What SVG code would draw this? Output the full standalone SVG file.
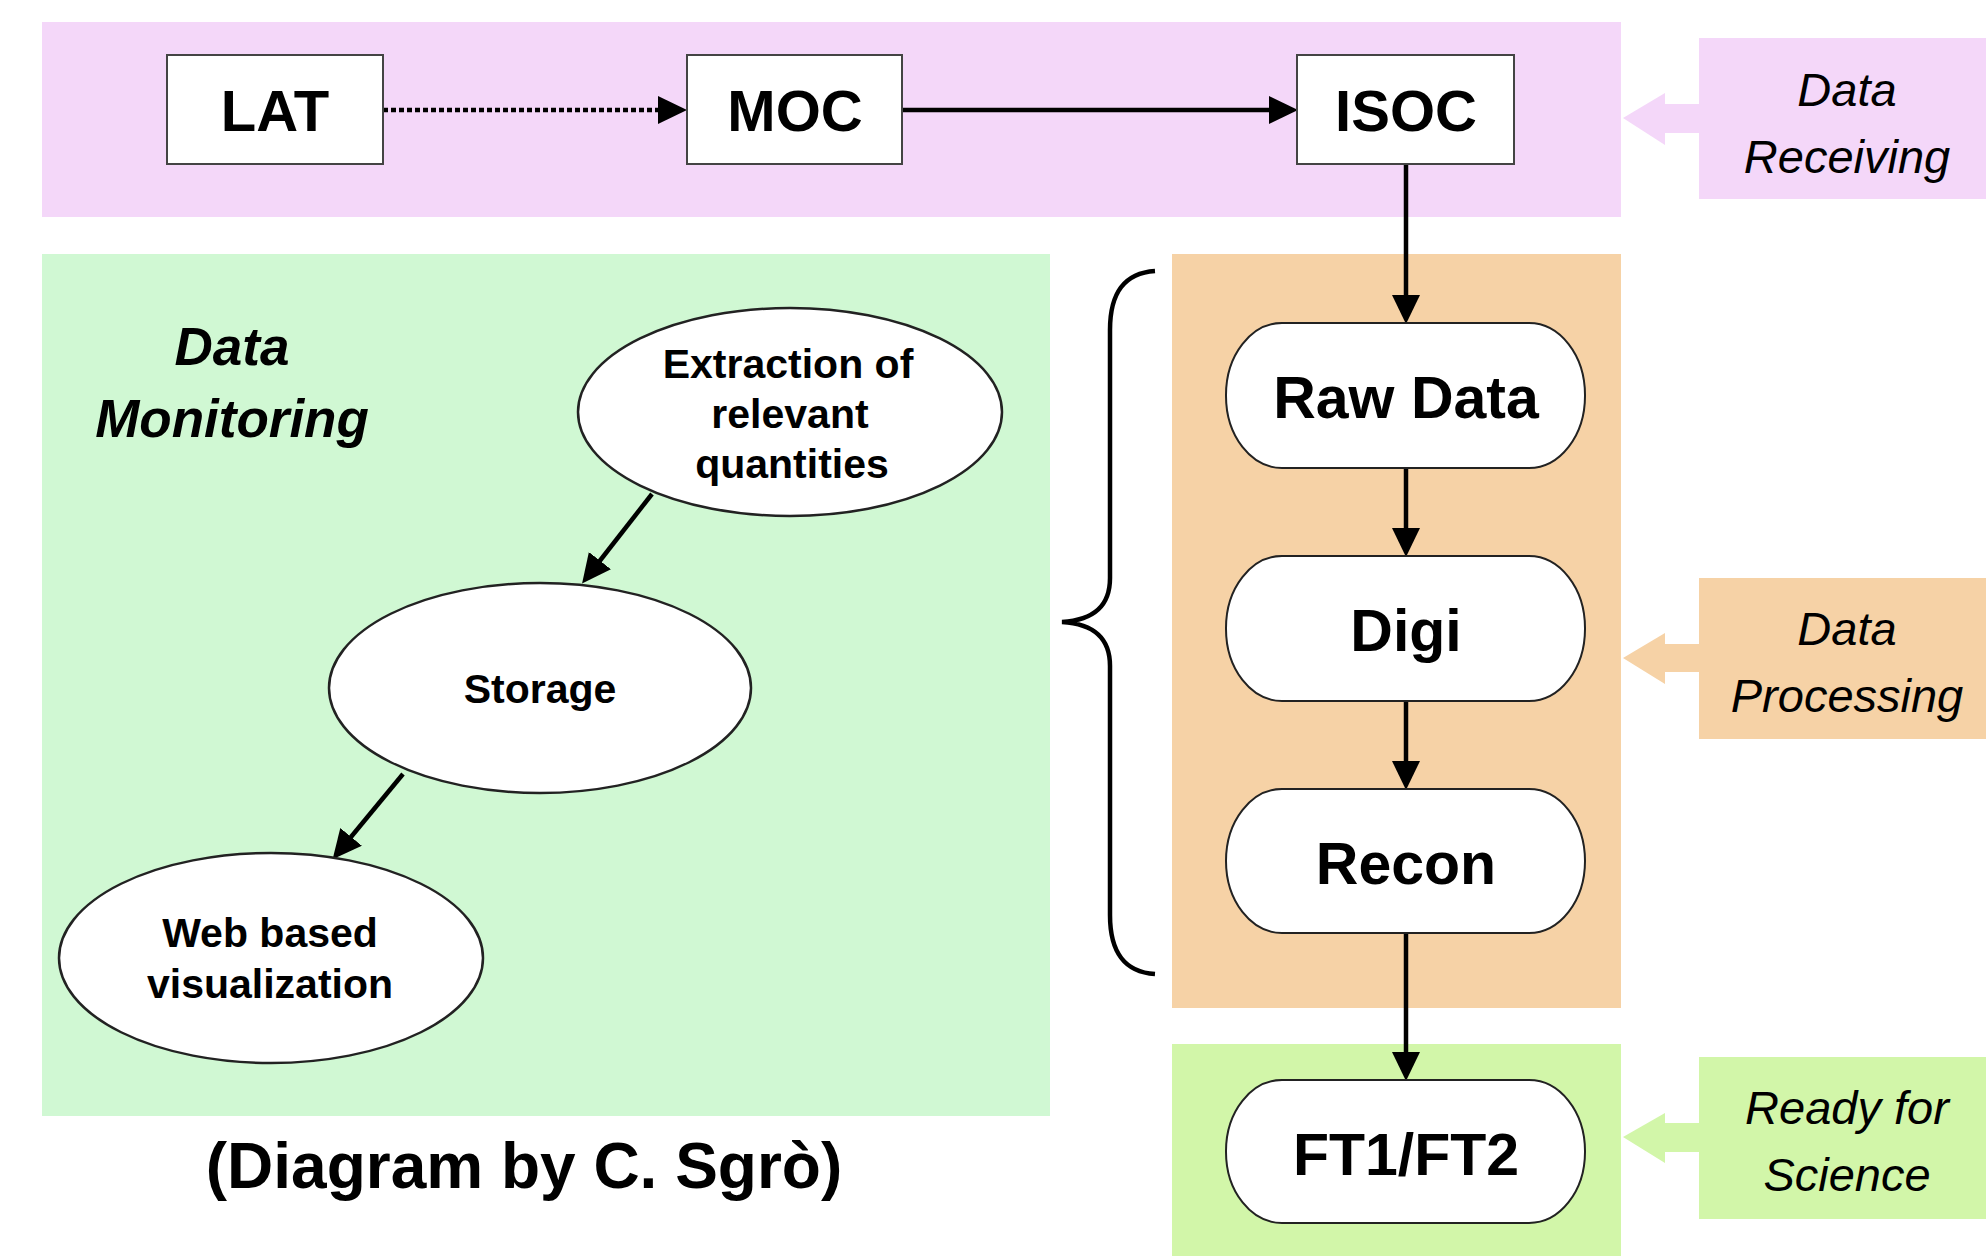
<svg xmlns="http://www.w3.org/2000/svg" width="1986" height="1256" viewBox="0 0 1986 1256">
<style>
.box{fill:#fff;stroke:#444;stroke-width:2}
.pill{fill:#fff;stroke:#222;stroke-width:2}
.ell{fill:#fff;stroke:#222;stroke-width:2.5}
.bt{font-family:"Liberation Sans",Arial,sans-serif;font-weight:bold;text-anchor:middle;fill:#000}
.it{font-family:"Liberation Sans",Arial,sans-serif;font-style:italic;text-anchor:middle;fill:#000;font-size:47px}
.ln{stroke:#000;stroke-width:4.5;fill:none}
</style>
<defs>
<marker id="ah" markerUnits="userSpaceOnUse" markerWidth="30" markerHeight="30" viewBox="0 0 30 30" refX="8" refY="14" orient="auto">
<path d="M0,0 L29,14 L0,28 z" fill="#000"/>
</marker>
</defs>
<!-- panels -->
<g id="panels">
<rect x="42" y="22" width="1579" height="195" fill="#F4D7F9"/>
<rect x="42" y="254" width="1008" height="862" fill="#D0F8D3"/>
<rect x="1172" y="254" width="449" height="754" fill="#F6D2A6"/>
<rect x="1172" y="1044" width="449" height="212" fill="#D2F6A9"/>
</g>
<!-- side labels -->
<g id="label-receiving">
<rect x="1699" y="38" width="287" height="161" fill="#F4D7F9"/>
<path d="M1623,118 L1665,93 L1665,104 L1700,104 L1700,133 L1665,133 L1665,145 z" fill="#F4D7F9"/>
<text class="it" x="1847" y="106">Data</text>
<text class="it" x="1847" y="173">Receiving</text>
</g>
<g id="label-processing">
<rect x="1699" y="578" width="287" height="161" fill="#F6D2A6"/>
<path d="M1623,658 L1665,633 L1665,644 L1700,644 L1700,672 L1665,672 L1665,684 z" fill="#F6D2A6"/>
<text class="it" x="1847" y="645">Data</text>
<text class="it" x="1847" y="712">Processing</text>
</g>
<g id="label-science">
<rect x="1699" y="1057" width="287" height="162" fill="#D2F6A9"/>
<path d="M1623,1137 L1665,1113 L1665,1123 L1700,1123 L1700,1152 L1665,1152 L1665,1163 z" fill="#D2F6A9"/>
<text class="it" x="1847" y="1124">Ready for</text>
<text class="it" x="1847" y="1191">Science</text>
</g>
<g id="label-monitoring">
<text class="bt" x="232" y="365" font-size="53" font-style="italic">Data</text>
<text class="bt" x="232" y="437" font-size="53" font-style="italic">Monitoring</text>
</g>
<g id="brace">
<path class="ln" stroke-width="4" d="M1155,271 C1125,273 1110,292 1110,330 L1110,578 C1110,606 1094,620 1062,622 C1094,624 1110,638 1110,666 L1110,915 C1110,953 1125,972 1155,974"/>
</g>
<!-- connectors -->
<g id="connectors">
<line class="ln" x1="383" y1="110" x2="666" y2="110" stroke-dasharray="5,3" marker-end="url(#ah)"/>
<line class="ln" x1="902" y1="110" x2="1277" y2="110" marker-end="url(#ah)"/>
<line class="ln" x1="1406" y1="164" x2="1406" y2="303" marker-end="url(#ah)"/>
<line class="ln" x1="1406" y1="468" x2="1406" y2="536" marker-end="url(#ah)"/>
<line class="ln" x1="1406" y1="701" x2="1406" y2="769" marker-end="url(#ah)"/>
<line class="ln" x1="1406" y1="933" x2="1406" y2="1060" marker-end="url(#ah)"/>
<line class="ln" x1="652" y1="494" x2="595" y2="567" marker-end="url(#ah)"/>
<line class="ln" x1="403" y1="774" x2="346" y2="843" marker-end="url(#ah)"/>
</g>
<!-- nodes -->
<g id="LAT">
<rect class="box" x="167" y="55" width="216" height="109"/>
<text class="bt" x="275" y="131" font-size="58">LAT</text>
</g>
<g id="MOC">
<rect class="box" x="687" y="55" width="215" height="109"/>
<text class="bt" x="795" y="131" font-size="58">MOC</text>
</g>
<g id="ISOC">
<rect class="box" x="1297" y="55" width="217" height="109"/>
<text class="bt" x="1406" y="131" font-size="58">ISOC</text>
</g>
<g id="RawData">
<rect class="pill" x="1226" y="323" width="359" height="145" rx="56" ry="72"/>
<text class="bt" x="1406" y="418" font-size="59">Raw Data</text>
</g>
<g id="Digi">
<rect class="pill" x="1226" y="556" width="359" height="145" rx="56" ry="72"/>
<text class="bt" x="1406" y="651" font-size="59">Digi</text>
</g>
<g id="Recon">
<rect class="pill" x="1226" y="789" width="359" height="144" rx="56" ry="72"/>
<text class="bt" x="1406" y="884" font-size="59">Recon</text>
</g>
<g id="FT1FT2">
<rect class="pill" x="1226" y="1080" width="359" height="143" rx="56" ry="71"/>
<text class="bt" x="1406" y="1175" font-size="59">FT1/FT2</text>
</g>
<g id="Extraction">
<ellipse class="ell" cx="790" cy="412" rx="212" ry="104"/>
<text class="bt" x="788" y="378" font-size="41">Extraction of</text>
<text class="bt" x="790" y="428" font-size="41">relevant</text>
<text class="bt" x="792" y="478" font-size="41">quantities</text>
</g>
<g id="Storage">
<ellipse class="ell" cx="540" cy="688" rx="211" ry="105"/>
<text class="bt" x="540" y="703" font-size="41">Storage</text>
</g>
<g id="WebViz">
<ellipse class="ell" cx="271" cy="958" rx="212" ry="105"/>
<text class="bt" x="270" y="947" font-size="41">Web based</text>
<text class="bt" x="270" y="998" font-size="41">visualization</text>
</g>
<text class="bt" x="524" y="1188" font-size="64">(Diagram by C. Sgrò)</text>
</svg>
